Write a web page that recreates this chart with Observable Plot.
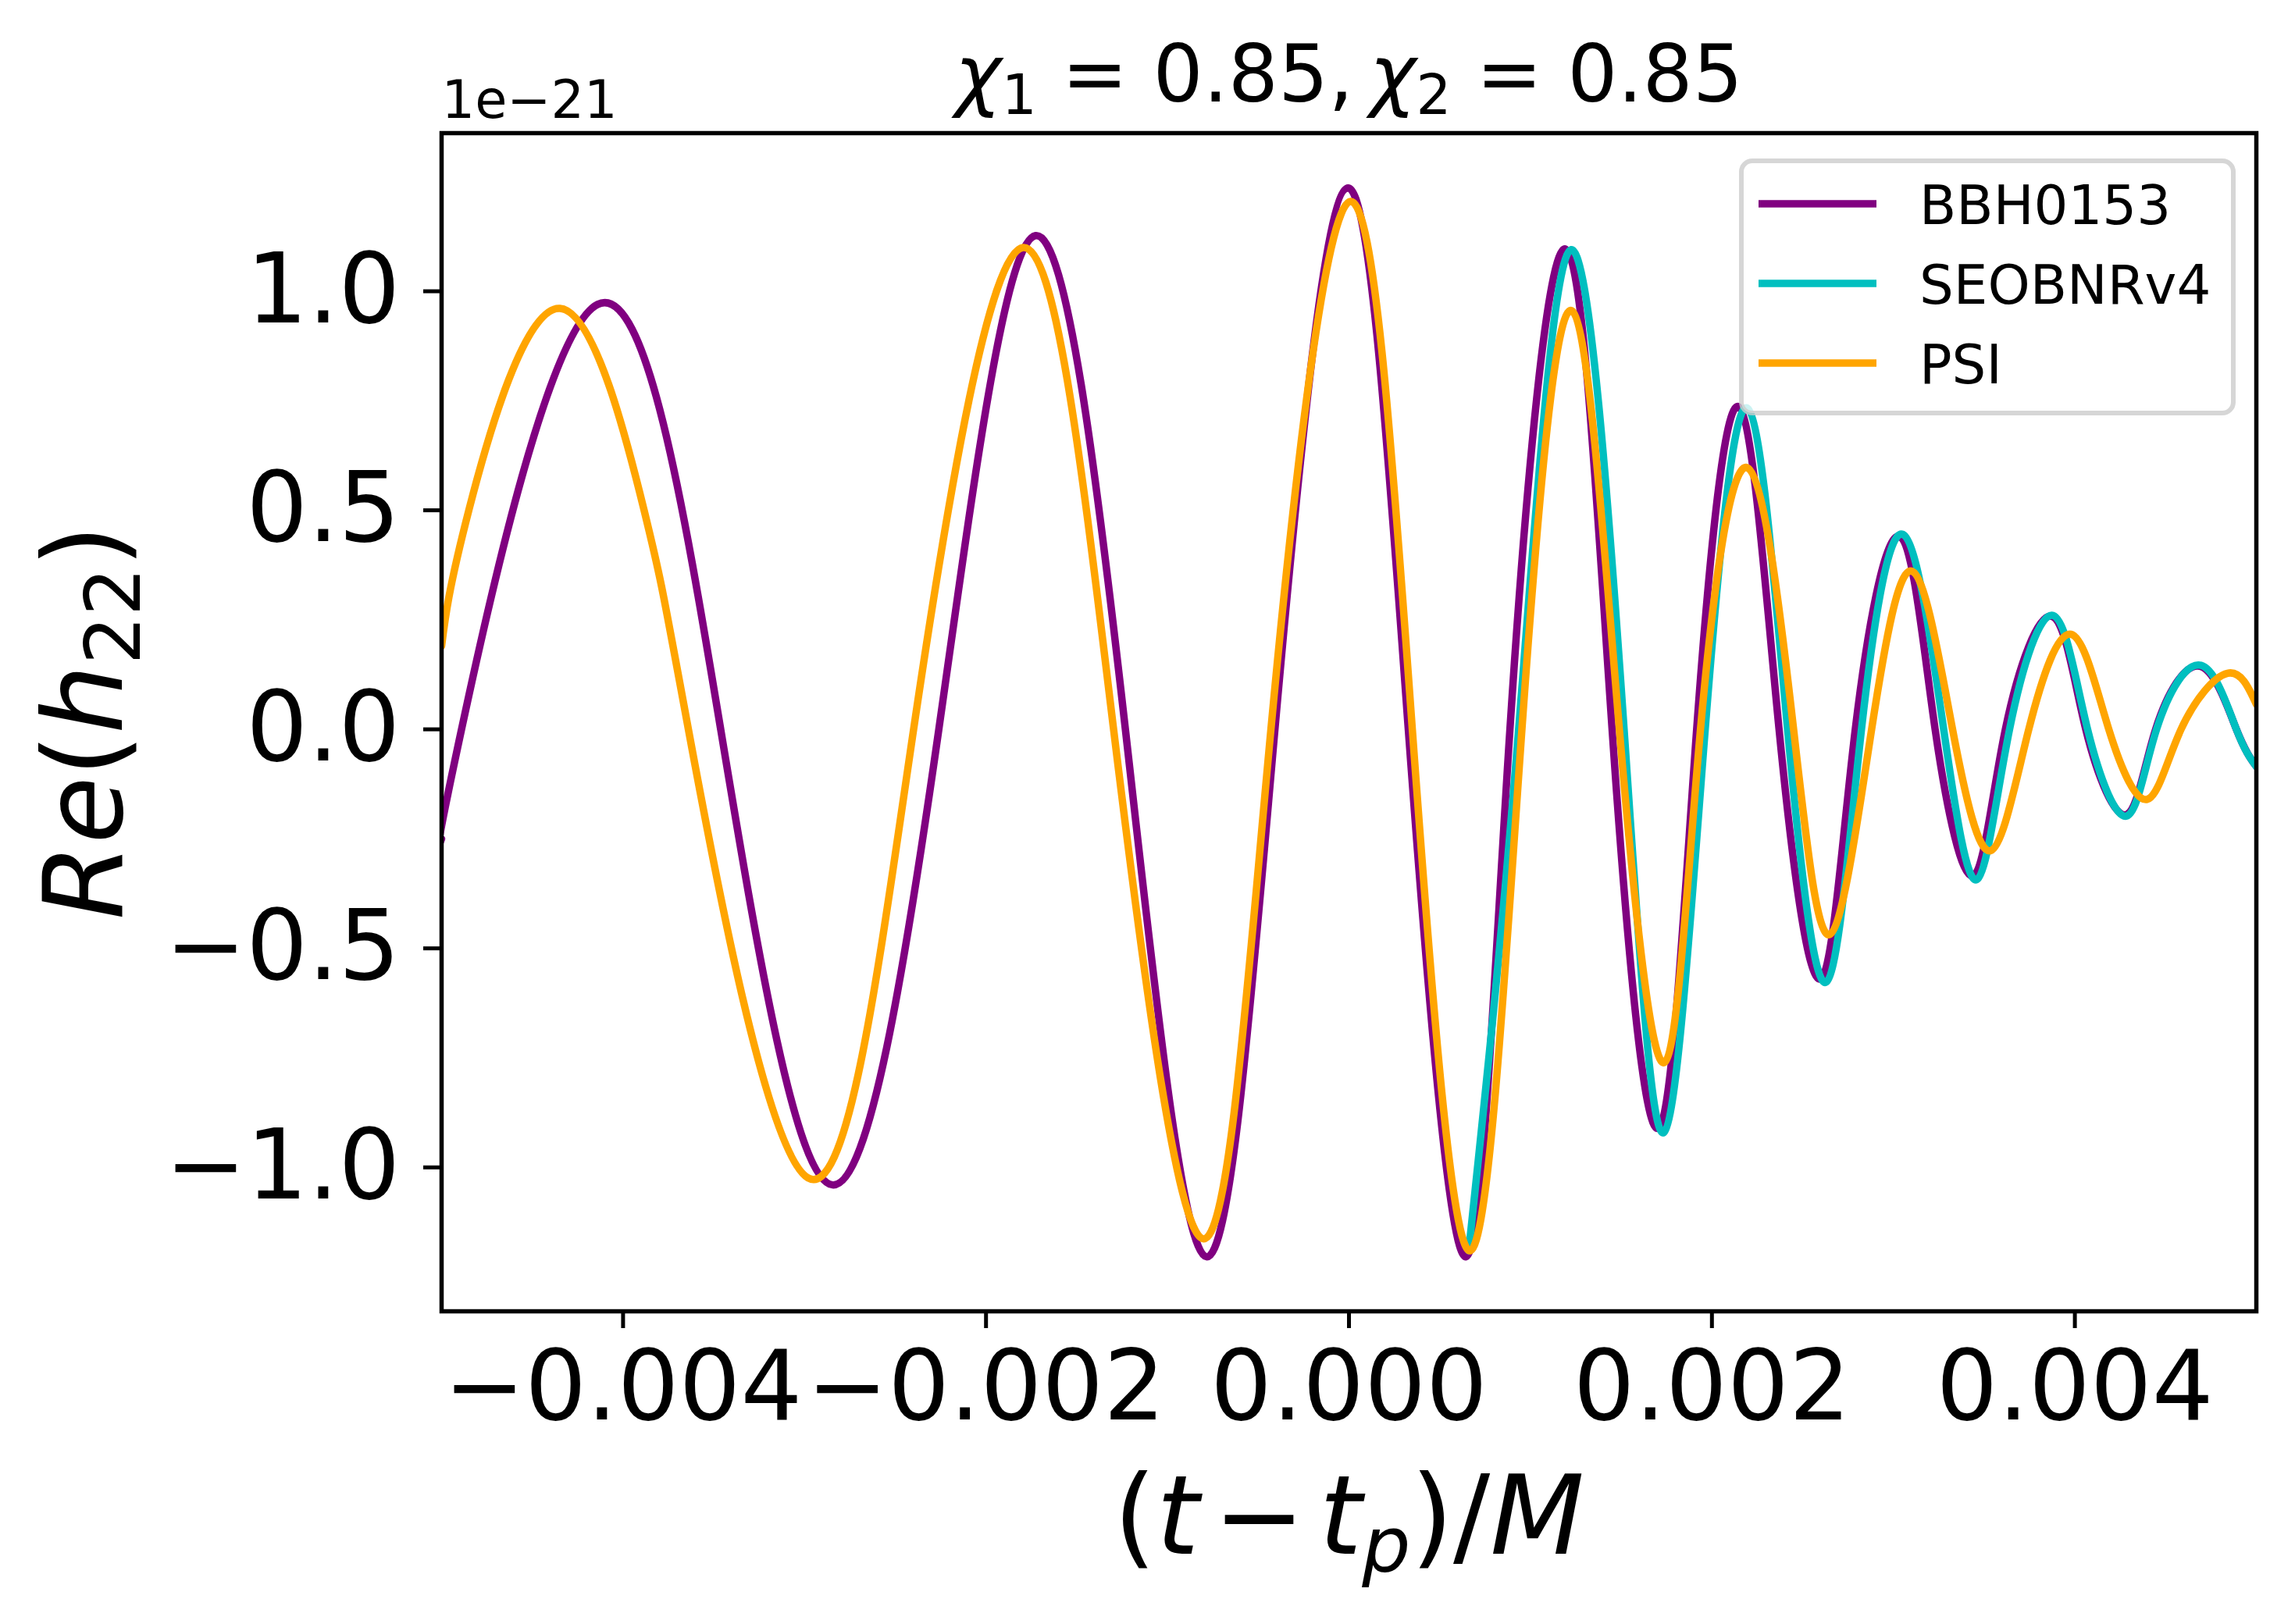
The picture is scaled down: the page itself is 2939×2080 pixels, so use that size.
<!DOCTYPE html>
<html>
<head>
<meta charset="utf-8">
<script src="https://cdn.jsdelivr.net/npm/d3@7"></script>
<script src="https://cdn.jsdelivr.net/npm/@observablehq/plot@0.6"></script>
<style>
  html, body { margin: 0; padding: 0; background: #fff; overflow: hidden; }
  #chart { position: relative; width: 2939px; height: 2080px; }
</style>
</head>
<body>
<div id="chart"></div>
<script>
// ---- data (x = (t - t_p)/M, y = Re(h22) / 1e-21) ----
const bbhT = [-0.005, -0.00489, -0.00414, -0.003462, -0.002845, -0.00226, -0.001727, -0.001232, -0.000785, -0.000408, -0.000005, 0.000327, 0.000645, 0.000887, 0.001195, 0.00145, 0.001705, 0.001916, 0.002148, 0.00237, 0.0026, 0.00279, 0.003035, 0.00323, 0.00344, 0.003617, 0.003873, 0.00406, 0.004282, 0.004445, 0.00469, 0.00489, 0.005];
const bbhH = [-0.25, 0, 0.97, 0, -1.04, 0, 1.127, 0, -1.204, 0, 1.236, 0, -1.204, 0, 1.096, 0, -0.91, 0, 0.736, 0, -0.569, 0, 0.44, 0, -0.334, 0, 0.258, 0, -0.195, 0, 0.144, 0, -0.085];

const seobT = [0.00066, 0.000935, 0.001224, 0.001516, 0.001736, 0.001963, 0.002196, 0.002417, 0.00263, 0.002824, 0.003052, 0.003277, 0.00346, 0.00364, 0.00388, 0.00407, 0.004285, 0.00445, 0.004695, 0.00489, 0.005];
const seobH = [-1.19, 0, 1.095, 0, -0.92, 0, 0.733, 0, -0.577, 0, 0.445, 0, -0.343, 0, 0.26, 0, -0.198, 0, 0.146, 0, -0.085];

const psiT = [-0.005, -0.00485, -0.004348, -0.003884, -0.00364, -0.002981, -0.002399, -0.001795, -0.001297, -0.000803, -0.00043, 0.000009, 0.000349, 0.00067, 0.000953, 0.00123, 0.00149, 0.00174, 0.001937, 0.002196, 0.00245, 0.00265, 0.00288, 0.003103, 0.003326, 0.003536, 0.003746, 0.003979, 0.004187, 0.004398, 0.004585, 0.004841, 0.005];
const psiH = [0.19, 0.5, 0.961, 0.5, 0, -1.024, 0, 1.10, 0, -1.163, 0, 1.205, 0, -1.19, 0, 0.955, 0, -0.76, 0, 0.597, 0, -0.468, 0, 0.361, 0, -0.277, 0, 0.217, 0, -0.16, 0, 0.128, 0.057];

const seriesNames = ["BBH0153", "SEOBNRv4", "PSI"];
const seriesColors = ["#800080", "#00bfbf", "#ffa500"];

const xTicks = [-0.004, -0.002, 0, 0.002, 0.004];
const yTicks = [-1.0, -0.5, 0.0, 0.5, 1.0];
const xDomain = [-0.005, 0.005];
const yDomain = [-1.3285, 1.361];

const titleText = "χ1 = 0.85, χ2 = 0.85";
const xLabelText = "(t − tp)/M";
const yLabelText = "Re(h22)";
const offsetText = "1e−21";

// ---- build tables ----
const toRows = (T, H, name) => T.map((t, i) => ({t, h: H[i], name}));
const bbh = toRows(bbhT, bbhH, seriesNames[0]);
const seob = toRows(seobT, seobH, seriesNames[1]);
const psi = toRows(psiT, psiH, seriesNames[2]);

const FONT = "DejaVu Sans";
const LW = 9.5;

const plot = Plot.plot({
  width: 2939,
  height: 2080,
  marginLeft: 565,
  marginRight: 50,
  marginTop: 170,
  marginBottom: 401,
  style: {fontFamily: FONT, fontSize: "124px", background: "white", color: "black", overflow: "visible"},
  x: {domain: xDomain},
  y: {domain: yDomain},
  marks: [
    Plot.line(bbh, {x: "t", y: "h", stroke: seriesColors[0], strokeWidth: LW, curve: "natural", clip: true, strokeLinejoin: "round"}),
    Plot.line(seob, {x: "t", y: "h", stroke: seriesColors[1], strokeWidth: LW, curve: "natural", clip: true, strokeLinejoin: "round"}),
    Plot.line(psi, {x: "t", y: "h", stroke: seriesColors[2], strokeWidth: LW, curve: "natural", clip: true, strokeLinejoin: "round"}),
    Plot.frame({strokeWidth: 5.5}),
    Plot.axisX({ticks: xTicks, tickFormat: d3.format(".3f"), tickSize: 22, tickPadding: 28, strokeWidth: 5, label: null}),
    Plot.axisY({ticks: yTicks, tickFormat: d3.format(".1f"), tickSize: 23, tickPadding: 30, strokeWidth: 5, label: null}),
    Plot.text([titleText], {text: d => d, frameAnchor: "top", dy: -41, fontSize: 101, lineAnchor: "bottom", className: "m-title"}),
    Plot.text([offsetText], {text: d => d, frameAnchor: "top-left", textAnchor: "start", dy: -20, fontSize: 67, lineAnchor: "bottom"}),
    Plot.text([xLabelText], {text: d => d, frameAnchor: "bottom", dy: 310, fontSize: 140, lineAnchor: "bottom", className: "m-xlab"}),
    Plot.text([yLabelText], {text: d => d, frameAnchor: "left", dx: -410, rotate: -90, fontSize: 140, lineAnchor: "bottom", textAnchor: "middle", className: "m-ylab"})
  ]
});

document.getElementById("chart").appendChild(plot);

// ---- mathtext-like rendering (italic variables, subscripts) ----
function mathify(cls, parts, fs) {
  const t = d3.select(plot).select("g." + cls + " text");
  if (t.empty()) return;
  t.text(null);
  const shift = 0.165 * fs;
  let down = false;
  for (const p of parts) {
    const ts = t.append("tspan").text(p.s);
    let dy = 0;
    if (p.i) ts.attr("font-style", "italic");
    if (p.sub) { ts.attr("font-size", (0.7 * fs) + "px"); if (!down) { dy = shift; down = true; } }
    else if (down) { dy = -shift; down = false; }
    if (dy) ts.attr("dy", dy);
    if (p.dx) ts.attr("dx", p.dx * fs);
  }
}
mathify("m-title", [
  {s: "χ", i: true}, {s: "1", sub: true}, {s: " = 0.85,"},
  {s: "χ", i: true, dx: 0.2}, {s: "2", sub: true}, {s: " = 0.85"}
], 101);
mathify("m-xlab", [
  {s: "("}, {s: "t", i: true}, {s: "−", dx: 0.13}, {s: "t", i: true, dx: 0.13},
  {s: "p", i: true, sub: true}, {s: ")/"}, {s: "M", i: true}
], 140);
mathify("m-ylab", [
  {s: "Re", i: true}, {s: "("}, {s: "h", i: true}, {s: "22", sub: true}, {s: ")"}
], 140);

// ---- legend (matplotlib-style box, upper right) ----
const svg = d3.select(plot);
const lg = svg.append("g").attr("font-family", FONT).attr("text-anchor", "start");
lg.append("rect")
  .attr("x", 2230).attr("y", 206).attr("width", 630).attr("height", 323)
  .attr("rx", 14).attr("fill", "white").attr("fill-opacity", 0.8)
  .attr("stroke", "#cccccc").attr("stroke-opacity", 0.8).attr("stroke-width", 6);
seriesNames.forEach((name, i) => {
  const cy = 261 + i * 102;
  lg.append("line").attr("x1", 2252).attr("x2", 2403).attr("y1", cy).attr("y2", cy)
    .attr("stroke", seriesColors[i]).attr("stroke-width", LW);
  lg.append("text").attr("x", 2458).attr("y", cy + 26).attr("font-size", 69)
    .attr("text-anchor", "start").attr("fill", "black").text(name);
});
</script>
</body>
</html>
